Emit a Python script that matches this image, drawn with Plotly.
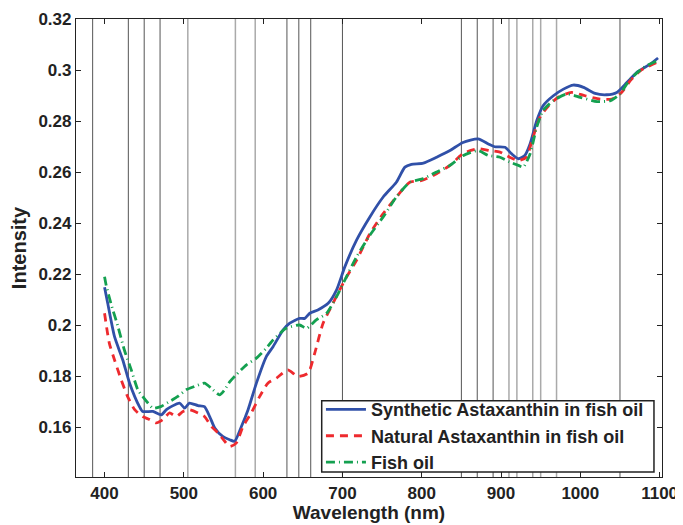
import plotly.graph_objects as go

# Synthetic Astaxanthin in fish oil
syn_wl = [400, 404, 412.6, 423, 431.6, 444, 448, 461, 471.6, 478, 484, 494.7, 501, 507, 517.8, 526,
          532.6, 539, 549, 557.8, 564, 572.6, 581, 591.5, 604, 612.5, 625, 633.6, 646, 652.5, 658.8,
          669, 682, 692.5, 703, 717.8, 734.6, 751.4, 768, 778.8, 787, 802, 818.8, 835.6, 852, 871,
          884, 892, 905, 913.5, 922, 930, 936.6, 945, 953, 966, 978.7, 991, 1004, 1018.7, 1033,
          1046, 1058.7, 1071, 1088, 1098]
syn_val = [0.2148, 0.2085, 0.1954, 0.1863, 0.1772, 0.168, 0.1661, 0.1661, 0.1648, 0.1668, 0.168,
           0.1694, 0.1674, 0.1694, 0.1684, 0.168, 0.1641, 0.1596, 0.1563, 0.155, 0.1544, 0.1602,
           0.1668, 0.1772, 0.1876, 0.1915, 0.198, 0.2007, 0.2026, 0.2026, 0.2046, 0.2059, 0.2085,
           0.2137, 0.2228, 0.2333, 0.2424, 0.2502, 0.256, 0.2619, 0.263, 0.2635, 0.2658, 0.2684,
           0.2716, 0.273, 0.271, 0.2699, 0.2697, 0.2671, 0.2652, 0.2665, 0.271, 0.2801, 0.286,
           0.2899, 0.2925, 0.2941, 0.2932, 0.2908, 0.2903, 0.2912, 0.2951, 0.299, 0.3023, 0.3047]

# Natural Astaxanthin in fish oil
nat_wl = [400, 406, 412.6, 421, 429, 438, 448, 457, 465, 473.6, 482, 490.5, 499, 507, 518, 526,
          534.7, 543, 551.5, 558, 566, 574.6, 585, 595.7, 606, 616.8, 631, 644, 656.7, 665, 675.6,
          688, 703, 717.8, 734.6, 751.4, 768, 785, 800, 818.8, 835.6, 852, 871, 886, 898.7, 911,
          922, 932, 939, 949, 960, 972, 989, 1006, 1025, 1039.7, 1052, 1063, 1075.5, 1096.6]
nat_val = [0.2046, 0.1929, 0.1863, 0.1785, 0.172, 0.1668, 0.1641, 0.1629, 0.1616, 0.1629, 0.1655,
           0.1641, 0.1661, 0.1668, 0.1655, 0.1641, 0.1602, 0.1577, 0.1544, 0.1524, 0.1537, 0.1602,
           0.1655, 0.172, 0.1772, 0.1792, 0.1824, 0.1798, 0.1811, 0.1889, 0.2007, 0.2085, 0.2176,
           0.2254, 0.2358, 0.2437, 0.2502, 0.256, 0.2567, 0.2593, 0.2626, 0.2672, 0.2691, 0.2684,
           0.2678, 0.2658, 0.2645, 0.2658, 0.2723, 0.2814, 0.286, 0.2893, 0.2912, 0.2899, 0.2886,
           0.2886, 0.2912, 0.2958, 0.2997, 0.303]

# Fish oil
fish_wl = [400, 402, 408, 417, 425, 433.7, 442, 448, 454.7, 461, 471.6, 482, 492.5, 503, 513.6, 526,
           534.7, 545, 551.5, 558, 566, 579, 591.5, 604, 612.5, 629, 646, 654.7, 667, 680, 692.5,
           703, 717.8, 734.6, 751.4, 768, 785, 802, 818.8, 835.6, 852, 871, 884, 898.7, 911, 922,
           928, 936.6, 945, 953, 966, 983, 1000, 1021, 1038, 1050, 1063, 1080, 1096.6]
fish_val = [0.2189, 0.2157, 0.2085, 0.1993, 0.1902, 0.1824, 0.1746, 0.172, 0.1694, 0.1674, 0.1681,
            0.17, 0.172, 0.1746, 0.1759, 0.1772, 0.1752, 0.1726, 0.1746, 0.1778, 0.1805, 0.1844,
            0.187, 0.1909, 0.1941, 0.1987, 0.2, 0.1987, 0.202, 0.2046, 0.2111, 0.2176, 0.2267,
            0.2352, 0.2424, 0.2502, 0.256, 0.2574, 0.26, 0.2626, 0.2664, 0.2684, 0.2665, 0.2658,
            0.2639, 0.2626, 0.2619, 0.2671, 0.2776, 0.2841, 0.288, 0.2906, 0.2893, 0.2876, 0.288,
            0.2906, 0.2964, 0.301, 0.3036]

# Marked wavelengths (vertical reference lines)
marks_dark = [385, 430, 450, 470, 630, 645, 660, 700, 850, 870, 890, 1050]
marks_light = [505, 565, 590, 910, 920, 940, 950, 970]

x_ticks = [400, 500, 600, 700, 800, 900, 1000, 1100]
y_ticks = [0.16, 0.18, 0.2, 0.22, 0.24, 0.26, 0.28, 0.3, 0.32]
y_ticktext = ["0.16", "0.18", "0.2", "0.22", "0.24", "0.26", "0.28", "0.3", "0.32"]

fig = go.Figure()

shapes = []
for w in marks_dark:
    shapes.append(dict(type="line", xref="x", yref="paper", x0=w, x1=w, y0=0, y1=1,
                       line=dict(color="#555555", width=1), layer="below"))
for w in marks_light:
    shapes.append(dict(type="line", xref="x", yref="paper", x0=w, x1=w, y0=0, y1=1,
                       line=dict(color="#aaaaaa", width=1.5), layer="below"))
# legend frame
shapes.append(dict(type="rect", xref="paper", yref="paper", x0=0.4193, x1=0.9863, y0=0.0109, y1=0.1666,
                   line=dict(color="#222222", width=1.5), fillcolor="white", layer="above"))

fig.add_trace(go.Scatter(x=syn_wl, y=syn_val, mode="lines",
                         name="Synthetic Astaxanthin in fish oil",
                         line=dict(color="#3050a8", width=2.8, shape="spline", smoothing=0.6)))
fig.add_trace(go.Scatter(x=nat_wl, y=nat_val, mode="lines",
                         name="Natural Astaxanthin in fish oil",
                         line=dict(color="#ee2a2e", width=2.8, dash="8px,6px", shape="spline", smoothing=0.6)))
fig.add_trace(go.Scatter(x=fish_wl, y=fish_val, mode="lines",
                         name="Fish oil",
                         line=dict(color="#14a050", width=2.8, dash="9px,4px,1px,4px", shape="spline", smoothing=0.6)))

font_family = "Liberation Sans, Arial, Helvetica, sans-serif"

fig.update_layout(
    width=675, height=517,
    margin=dict(l=68, r=21, t=11, b=48, autoexpand=False),
    paper_bgcolor="white", plot_bgcolor="white",
    shapes=shapes,
    font=dict(family=font_family, color="#222222"),
    showlegend=True,
    legend=dict(x=0.418, y=0.1874, xanchor="left", yanchor="top",
                borderwidth=0, bgcolor="rgba(0,0,0,0)",
                font=dict(size=18, family=font_family, color="#222222", weight="bold"),
                itemwidth=40, tracegroupgap=0),
    xaxis=dict(range=[364, 1103], tickvals=x_ticks, ticktext=[str(v) for v in x_ticks],
               ticks="inside", ticklen=5, tickcolor="#222222", showline=True, linecolor="#222222",
               linewidth=1.2, mirror="ticks", showgrid=False, zeroline=False, automargin=False,
               tickfont=dict(size=17, weight="bold"),
               title=dict(text="Wavelength (nm)", font=dict(size=19, weight="bold"), standoff=4)),
    yaxis=dict(range=[0.1404, 0.32], tickvals=y_ticks, ticktext=y_ticktext,
               ticks="inside", ticklen=5, tickcolor="#222222", showline=True, linecolor="#222222",
               linewidth=1.2, mirror="ticks", showgrid=False, zeroline=False, automargin=False,
               tickfont=dict(size=17, weight="bold"),
               title=dict(text="Intensity", font=dict(size=20, weight="bold"), standoff=6)),
)

fig.write_html("out.html")
